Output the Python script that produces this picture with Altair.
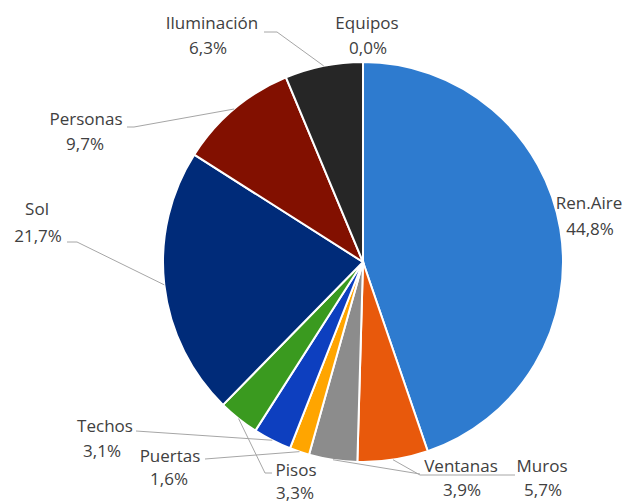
import math
import altair as alt
import pandas as pd

# ---- data ----
categories = ["Ren.Aire", "Muros", "Ventanas", "Puertas", "Techos", "Pisos",
              "Sol", "Personas", "Iluminación", "Equipos"]
values = [44.8, 5.7, 3.9, 1.6, 3.1, 3.3, 21.7, 9.7, 6.3, 0.0]
pct_labels = ["44,8%", "5,7%", "3,9%", "1,6%", "3,1%", "3,3%",
              "21,7%", "9,7%", "6,3%", "0,0%"]

# ---- styles / layout ----
colors = ["#2E7BCF", "#E8590C", "#8C8C8C", "#FFA500", "#0D3FBF", "#3A9A1F",
          "#002B79", "#821000", "#262626", "#7F7F7F"]
OFF = 8  # page margin
CX, CY, R = 363 - OFF, 262 - OFF, 200
FONT = "Open Sans"
FS = 17
TXT = "#404040"

# label centers in page coordinates: (name), (percent)
label_pos = {
    "Ren.Aire": ((589, 204), (590, 230)),
    "Muros": ((542, 467), (543, 491)),
    "Ventanas": ((461, 467), (462, 491)),
    "Puertas": ((170, 457), (169, 480)),
    "Techos": ((105, 427), (102, 452)),
    "Pisos": ((296, 471), (295, 494)),
    "Sol": ((37, 210), (38, 237)),
    "Personas": ((86, 120), (85, 145)),
    "Iluminación": ((212, 24), (208, 49)),
    "Equipos": ((367, 24), (368, 49)),
}
# leader line path after the slice edge point (page coordinates)
leader_via = {
    "Muros": [(420, 475), (515, 475)],
    "Ventanas": [(420, 474)],
    "Puertas": [(205, 459)],
    "Techos": [(136, 431)],
    "Pisos": [(265, 473), (272, 473)],
    "Sol": [(77, 242), (67, 242)],
    "Personas": [(134, 127), (127, 127)],
    "Iluminación": [(277, 32), (264, 32)],
}

pie_df = pd.DataFrame({"category": categories, "value": values,
                       "order": list(range(len(categories)))})

total = sum(values)
cum = 0.0
rows = []
for cat, v in zip(categories, values):
    mid = cum + v / 2
    cum += v
    if cat not in leader_via:
        continue
    a = 2 * math.pi * mid / total
    pts = [(CX + R * math.sin(a), CY - R * math.cos(a))]
    pts += [(px - OFF, py - OFF) for px, py in leader_via[cat]]
    for i, (px, py) in enumerate(pts):
        rows.append({"group": cat, "seq": i, "x": px, "y": py})
lead_df = pd.DataFrame(rows)

trows = []
for cat, pct in zip(categories, pct_labels):
    (nx, ny), (qx, qy) = label_pos[cat]
    trows.append({"t": cat, "x": nx - OFF, "y": ny - OFF})
    trows.append({"t": pct, "x": qx - OFF, "y": qy - OFF})
text_df = pd.DataFrame(trows)

pie = alt.Chart(pie_df).mark_arc(outerRadius=R, stroke="white", strokeWidth=2).encode(
    theta=alt.Theta("value:Q", stack=True),
    color=alt.Color("category:N", scale=alt.Scale(domain=categories, range=colors), legend=None),
    order=alt.Order("order:Q"),
    x=alt.value(CX),
    y=alt.value(CY),
)

leaders = alt.Chart(lead_df).mark_line(color="#A6A6A6", strokeWidth=1).encode(
    x=alt.X("x:Q", scale=None, axis=None),
    y=alt.Y("y:Q", scale=None, axis=None),
    detail="group:N",
    order="seq:Q",
)

texts = alt.Chart(text_df).mark_text(font=FONT, fontSize=FS, color=TXT,
                                     align="center", baseline="middle").encode(
    x=alt.X("x:Q", scale=None, axis=None),
    y=alt.Y("y:Q", scale=None, axis=None),
    text="t:N",
)

chart = alt.layer(pie, leaders, texts).properties(
    width=633 - 2 * OFF, height=503 - OFF, autosize="none", padding=0,
    background="white",
).configure_view(stroke=None)

chart.save("out.html", embed_options={"renderer": "svg", "actions": False})
